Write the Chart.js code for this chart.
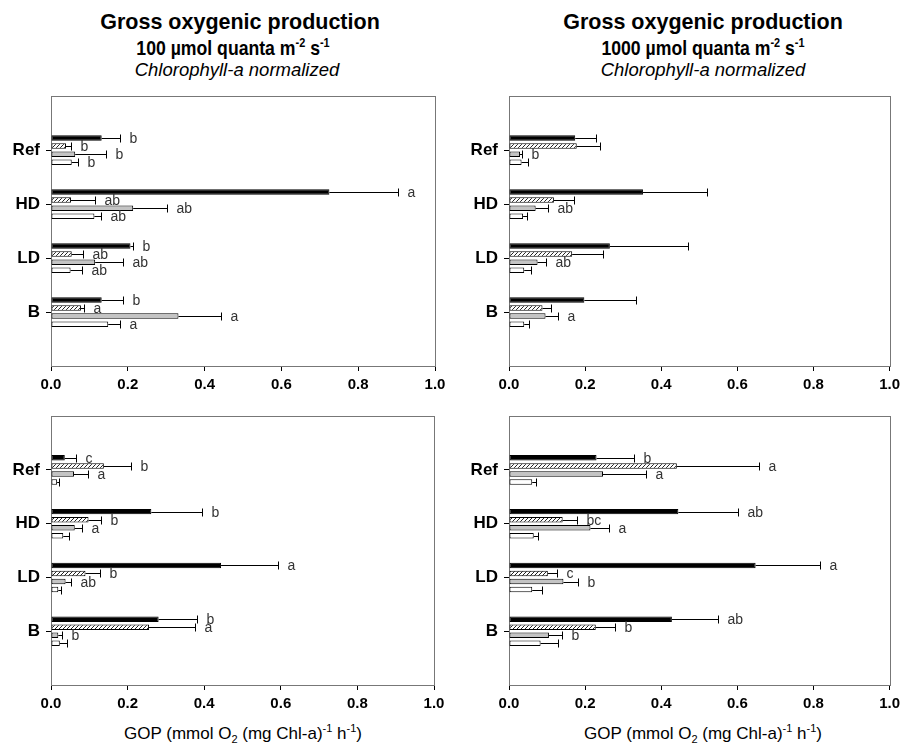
<!DOCTYPE html>
<html>
<head>
<meta charset="utf-8">
<script src="https://cdn.jsdelivr.net/npm/chart.js@4"></script>
<style>
  body { margin: 0; background: #fff; }
  #page { position: relative; width: 905px; height: 752px; overflow: hidden; font-family: 'Liberation Sans', Arial, sans-serif; color: #000; }
  canvas { position: absolute; }
  .t { position: absolute; text-align: center; white-space: nowrap; line-height: 24px; }
  .t1 { font-size: 21.5px; font-weight: bold; }
  .t2 { font-size: 21px; font-weight: bold; transform: scaleX(0.84); }
  .t3 { font-size: 18.5px; font-style: italic; }
  .ax { font-size: 17px; }
  sup, sub { font-size: 11px; line-height: 0; }
  .t2 sup { font-size: 13px; }
</style>
</head>
<body>
<div id="page">
  <div class="t t1" style="left:40px;width:400px;top:10px">Gross oxygenic production</div>
  <div class="t t2" style="left:33px;width:400px;top:36px">100 µmol quanta m<sup>-2</sup> s<sup>-1</sup></div>
  <div class="t t3" style="left:37px;width:400px;top:58px">Chlorophyll-a normalized</div>
  <div class="t t1" style="left:503px;width:400px;top:10px">Gross oxygenic production</div>
  <div class="t t2" style="left:503px;width:400px;top:36px">1000 µmol quanta m<sup>-2</sup> s<sup>-1</sup></div>
  <div class="t t3" style="left:503px;width:400px;top:58px">Chlorophyll-a normalized</div>

  <canvas id="tl" width="452" height="320" style="left:0;top:80px"></canvas>
  <canvas id="tr" width="447" height="320" style="left:458px;top:80px"></canvas>
  <canvas id="bl" width="452" height="320" style="left:0;top:400px"></canvas>
  <canvas id="br" width="447" height="320" style="left:458px;top:400px"></canvas>

  <div class="t ax" style="left:43px;width:400px;top:722px">GOP (mmol O<sub>2</sub> (mg Chl-a)<sup>-1</sup> h<sup>-1</sup>)</div>
  <div class="t ax" style="left:503px;width:400px;top:722px">GOP (mmol O<sub>2</sub> (mg Chl-a)<sup>-1</sup> h<sup>-1</sup>)</div>
</div>
<script>
// groups on the vertical axis, top to bottom
const categories = ['Ref', 'HD', 'LD', 'B'];
// four treatments in each group (black, hatched, grey, white bars)
const seriesNames = ['Series 1', 'Series 2', 'Series 3', 'Series 4'];

// top left: 100 umol quanta, means / SD / significance letters
const tlMean = [
  [0.132, 0.725, 0.207, 0.132],
  [0.039, 0.052, 0.054, 0.078],
  [0.063, 0.214, 0.115, 0.332],
  [0.054, 0.113, 0.051, 0.149]
];
const tlSd = [
  [0.048, 0.178, 0.006, 0.056],
  [0.013, 0.063, 0.029, 0.009],
  [0.080, 0.087, 0.073, 0.112],
  [0.017, 0.017, 0.030, 0.031]
];
const tlSig = [
  ['b', 'a', 'b', 'b'],
  ['b', 'ab', 'ab', 'a'],
  ['b', 'ab', 'ab', 'a'],
  ['b', 'ab', 'ab', 'a']
];

// top right: 1000 umol quanta
const trMean = [
  [0.174, 0.352, 0.265, 0.198],
  [0.178, 0.118, 0.166, 0.088],
  [0.029, 0.070, 0.075, 0.096],
  [0.033, 0.037, 0.040, 0.040]
];
const trSd = [
  [0.054, 0.169, 0.206, 0.135],
  [0.061, 0.052, 0.082, 0.023],
  [0.006, 0.032, 0.023, 0.034],
  [0.017, 0.011, 0.017, 0.012]
];
const trSig = [
  ['', '', '', ''],
  ['', '', '', ''],
  ['b', 'ab', 'ab', 'a'],
  ['', '', '', '']
];

// bottom left
const blMean = [
  [0.036, 0.262, 0.444, 0.281],
  [0.138, 0.098, 0.090, 0.256],
  [0.060, 0.062, 0.038, 0.019],
  [0.016, 0.032, 0.019, 0.023]
];
const blSd = [
  [0.029, 0.133, 0.148, 0.101],
  [0.070, 0.033, 0.037, 0.120],
  [0.037, 0.020, 0.014, 0.010],
  [0.004, 0.014, 0.008, 0.019]
];
const blSig = [
  ['c', 'b', 'a', 'b'],
  ['b', 'b', 'b', 'a'],
  ['a', 'a', 'ab', 'b'],
  ['', '', '', '']
];

// bottom right
const brMean = [
  [0.230, 0.445, 0.648, 0.428],
  [0.441, 0.141, 0.102, 0.228],
  [0.247, 0.214, 0.143, 0.105],
  [0.061, 0.065, 0.061, 0.083]
];
const brSd = [
  [0.098, 0.158, 0.168, 0.120],
  [0.217, 0.038, 0.024, 0.051],
  [0.112, 0.049, 0.039, 0.035],
  [0.009, 0.011, 0.027, 0.047]
];
const brSig = [
  ['b', 'ab', 'a', 'ab'],
  ['a', 'bc', 'c', 'b'],
  ['a', 'a', 'b', 'b'],
  ['', '', '', '']
];

const FONT = "'Liberation Sans', Arial, sans-serif";

// diagonal hatch for the second bar of each group
function hatchPattern() {
  const c = document.createElement('canvas');
  c.width = 4; c.height = 4;
  const g = c.getContext('2d');
  g.fillStyle = '#fff';
  g.fillRect(0, 0, 4, 4);
  g.strokeStyle = '#222';
  g.lineWidth = 1;
  g.beginPath();
  g.moveTo(0, 4); g.lineTo(4, 0);
  g.moveTo(-1, 1); g.lineTo(1, -1);
  g.moveTo(3, 5); g.lineTo(5, 3);
  g.stroke();
  return g.createPattern(c, 'repeat');
}
const fills = ['#000', hatchPattern(), '#c4c4c4', '#fff'];

// frame round the plot area
const frame = {
  id: 'frame',
  beforeDatasetsDraw(chart) {
    const a = chart.chartArea, ctx = chart.ctx;
    ctx.save();
    ctx.strokeStyle = '#777';
    ctx.lineWidth = 1;
    ctx.strokeRect(Math.round(a.left) + 0.5, Math.round(a.top) + 0.5, Math.round(a.right - a.left), Math.round(a.bottom - a.top));
    ctx.restore();
  }
};

// SD whiskers (upper side only) and letters
const errorBars = {
  id: 'errorBars',
  afterDatasetsDraw(chart) {
    const ctx = chart.ctx, xs = chart.scales.x;
    ctx.save();
    chart.data.datasets.forEach((ds, i) => {
      chart.getDatasetMeta(i).data.forEach((bar, j) => {
        const v = ds.data[j].x;
        const x0 = bar.x;
        const x1 = Math.round(xs.getPixelForValue(v + ds.sd[j])) + 0.5;
        const y = Math.round(bar.y) + 0.5;
        ctx.strokeStyle = '#000';
        ctx.lineWidth = 1;
        ctx.beginPath();
        ctx.moveTo(x0, y); ctx.lineTo(x1, y);
        ctx.moveTo(x1, y - 4); ctx.lineTo(x1, y + 4);
        ctx.stroke();
        if (ds.sig[j]) {
          ctx.fillStyle = '#333';
          ctx.font = '14px ' + FONT;
          ctx.textBaseline = 'middle';
          ctx.textAlign = 'left';
          ctx.fillText(ds.sig[j], x1 + 9, y + 1);
        }
      });
    });
    ctx.restore();
  }
};

function panel(id, means, sds, sigs, pad, xHeight) {
  new Chart(document.getElementById(id), {
    type: 'bar',
    data: {
      datasets: means.map((row, s) => ({
        label: seriesNames[s],
        data: row.map((v, k) => ({ x: v, y: k })),
        sd: sds[s],
        sig: sigs[s],
        backgroundColor: fills[s],
        borderColor: '#000',
        borderWidth: 1,
        borderSkipped: false
      }))
    },
    options: {
      indexAxis: 'y',
      responsive: false,
      animation: false,
      datasets: { bar: { categoryPercentage: 0.6, barPercentage: 0.68 } },
      layout: { padding: { left: 0, top: pad.top, right: pad.right, bottom: 0 } },
      plugins: { legend: { display: false }, tooltip: { enabled: false } },
      scales: {
        x: {
          type: 'linear',
          min: 0,
          max: 1,
          ticks: {
            stepSize: 0.2,
            callback: v => v.toFixed(1),
            color: '#000',
            padding: 5,
            font: { family: FONT, size: 15, weight: 'bold' }
          },
          grid: { drawOnChartArea: false, tickLength: 5, color: '#000' },
          border: { color: '#000' },
          afterFit: s => { s.height = xHeight; }
        },
        y: {
          type: 'linear',
          reverse: true,
          offset: false,
          min: -1,
          max: categories.length,
          afterBuildTicks: s => { s.ticks = categories.map((c, k) => ({ value: k })); },
          ticks: {
            callback: v => categories[v],
            color: '#000',
            padding: 6,
            font: { family: FONT, size: 17, weight: 'bold' }
          },
          grid: { drawOnChartArea: false, offset: false, tickLength: 5, color: '#000' },
          border: { color: '#000' },
          afterFit: s => { s.width = 51; }
        }
      }
    },
    plugins: [frame, errorBars]
  });
}

panel('tl', tlMean, tlSd, tlSig, { top: 14, right: 17 }, 34);
panel('tr', trMean, trSd, trSig, { top: 14, right: 12 }, 34);
panel('bl', blMean, blSd, blSig, { top: 13, right: 18 }, 35);
panel('br', brMean, brSd, brSig, { top: 13, right: 12 }, 35);
</script>
</body>
</html>
